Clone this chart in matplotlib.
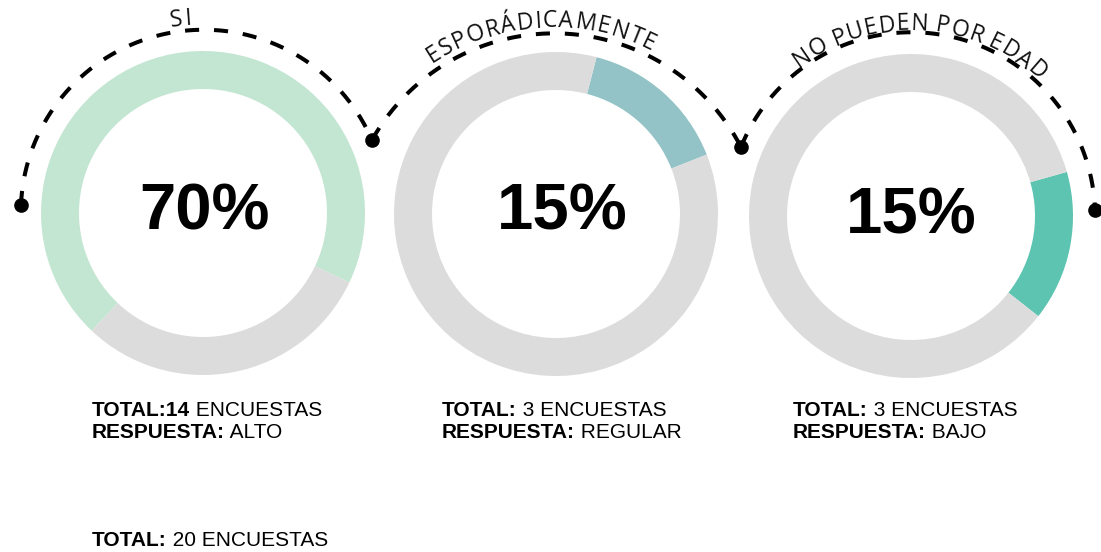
import numpy as np
import matplotlib
matplotlib.use("Agg")
import matplotlib.pyplot as plt
from matplotlib.font_manager import FontProperties, findfont, get_font

# datos
categorias = ["SI", "ESPORÁDICAMENTE", "NO PUEDEN POR EDAD"]
porcentajes = [70, 15, 15]
totales = ["14", "3", "3"]
respuestas = ["ALTO", "REGULAR", "BAJO"]
total_general = 20

colores = ["#c3e6d2", "#93c3c7", "#5cc4b0"]
gris = "#dcdcdc"

W, H = 1101, 552

# posiciones (pixeles, y hacia abajo)
centros = [(203, 213), (556, 214), (911, 216)]
inicio = [226.6, 75.5, 15.8]
radio, grosor = 162, 38

# puntos negros y centro de cada arco punteado
puntos = [(21, 205), (372, 140), (741, 147), (1095, 210)]
centros_arco = [(203, 213), (552, 243), (911, 216)]
# texto curvo: centro, radio, angulo primera letra, angulo ultima letra
textos_arco = [((203, 213), 189, 97.8, 94.2),
               ((552, 243), 216, 122.0, 64.3),
               ((911, 216), 186, 124.5, 49.0)]


def up(y):
    return H - y


def polar(c, p):
    dx, dy = p[0] - c[0], c[1] - p[1]
    return np.hypot(dx, dy), np.degrees(np.arctan2(dy, dx))


def texto_curvo(ax, s, c, r, a0, a1, size=16.5):
    fp = FontProperties(family="Open Sans", size=size)
    font = get_font(findfont(fp))
    font.set_size(size, 100)
    adv = np.array([font.load_char(ord(ch)).linearHoriAdvance / 65536 for ch in s])
    mid = np.cumsum(adv) - adv / 2
    frac = (mid - mid[0]) / (mid[-1] - mid[0])
    for ch, f in zip(s, frac):
        a = a0 + (a1 - a0) * f
        t = np.radians(a)
        ax.text(c[0] + r * np.cos(t), up(c[1]) + r * np.sin(t), ch,
                rotation=a - 90, rotation_mode="anchor", ha="center",
                va="baseline", fontproperties=fp, color="#111111")


fig = plt.figure(figsize=(W / 100, H / 100), dpi=100)
ax = fig.add_axes([0, 0, 1, 1])

for i in range(3):
    cx, cy = centros[i]
    ax.pie([porcentajes[i], 100 - porcentajes[i]], colors=[colores[i], gris],
           startangle=inicio[i], counterclock=False, radius=radio,
           center=(cx, up(cy)), wedgeprops=dict(width=grosor, linewidth=0))

# arcos punteados entre puntos
for i, c in enumerate(centros_arco):
    r0, a0 = polar(c, puntos[i])
    r1, a1 = polar(c, puntos[i + 1])
    f = np.linspace(0, 1, 300)
    th = np.radians(a0 + (a1 - a0) * f)
    rr = r0 + (r1 - r0) * f
    ax.plot(c[0] + rr * np.cos(th), up(c[1]) + rr * np.sin(th), color="black",
            lw=2.9, linestyle=(0, (3.5, 3.7)), dash_capstyle="butt")

px, py = zip(*puntos)
ax.plot(px, [up(y) for y in py], "o", color="black", ms=9.5, linestyle="none")

for s, (c, r, a0, a1) in zip(categorias, textos_arco):
    texto_curvo(ax, s, c, r, a0, a1)

# porcentajes
pos_pct = [(205, 230), (562, 230), (911, 233)]
for p, (x, y) in zip(porcentajes, pos_pct):
    ax.text(x, up(y), f"{p}%", ha="center", va="baseline", fontsize=47,
            fontweight="bold", family="Liberation Sans", color="black")

# textos inferiores
col_x = [92, 442, 793]
fs = 15
for i in range(3):
    x = col_x[i]
    if i == 0:
        b1, r1 = "TOTAL:" + totales[i], " ENCUESTAS"
    else:
        b1, r1 = "TOTAL:", " " + totales[i] + " ENCUESTAS"
    t = ax.text(x, up(416.5), b1, fontsize=fs, fontweight="bold",
                family="Liberation Sans", va="baseline")
    ax.annotate(r1, xy=(1, 0), xycoords=t, va="bottom", fontsize=fs,
                family="Liberation Sans")
    t2 = ax.text(x, up(438), "RESPUESTA:", fontsize=fs, fontweight="bold",
                 family="Liberation Sans", va="baseline")
    ax.annotate(" " + respuestas[i], xy=(1, 0), xycoords=t2, va="bottom",
                fontsize=fs, family="Liberation Sans")

t3 = ax.text(92, up(546.5), "TOTAL:", fontsize=fs, fontweight="bold",
             family="Liberation Sans", va="baseline")
ax.annotate(f" {total_general} ENCUESTAS", xy=(1, 0), xycoords=t3,
            va="bottom", fontsize=fs, family="Liberation Sans")

ax.set_xlim(0, W)
ax.set_ylim(0, H)
ax.set_aspect("equal")
ax.axis("off")
fig.savefig("out.png", dpi=100, facecolor="white")
